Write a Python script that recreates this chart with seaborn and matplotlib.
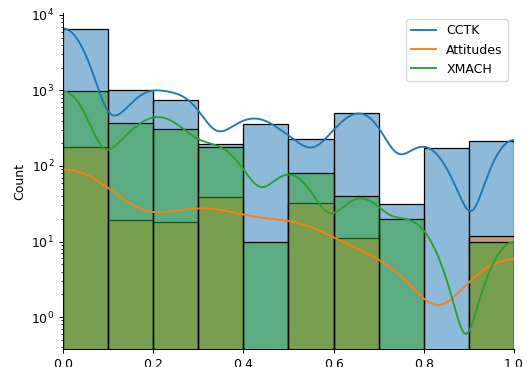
import numpy as np
import matplotlib
matplotlib.use("Agg")
import matplotlib.pyplot as plt
import seaborn as sns

# Observed scores per source: distinct values and how many times each occurs
cctk_values = [0.0, 0.12, 0.19, 0.25, 0.28, 0.375, 0.43, 0.47, 0.51, 0.59,
               0.625, 0.667, 0.75, 0.8, 0.85, 1.0]
cctk_counts = [6500, 250, 750, 400, 350, 196, 280, 77, 130, 100,
               120, 388, 31, 150, 25, 216]

attitudes_values = [0.0, 0.15, 0.25, 0.333, 0.5, 0.667, 1.0]
attitudes_counts = [180, 19, 18, 39, 32, 11, 12]

xmach_values = [0.0, 0.13, 0.19, 0.23, 0.27, 0.333, 0.375, 0.43, 0.5, 0.55,
                0.625, 0.667, 0.75, 0.785, 1.0]
xmach_counts = [985, 130, 245, 200, 109, 120, 60, 10, 70, 11,
                10, 30, 10, 10, 10]

series_names = ["CCTK", "Attitudes", "XMACH"]
series = [
    np.repeat(cctk_values, cctk_counts),
    np.repeat(attitudes_values, attitudes_counts),
    np.repeat(xmach_values, xmach_counts),
]

fig = plt.figure(figsize=(527 / 90, 367 / 90), dpi=90)
ax = fig.add_axes([0.1195, 0.049, 0.8558, 0.9155])

for data in series:
    sns.histplot(x=data, bins=10, binrange=(0, 1), kde=True, ax=ax)

ax.set_yscale("log")
ax.set_xlim(0, 1)
ax.set_ylim(0.377, 1.06e4)
ax.set_ylabel("Count")
sns.despine(ax=ax)
ax.legend(handles=ax.lines, labels=series_names, loc="upper right")

fig.savefig("out.png", dpi=90)
